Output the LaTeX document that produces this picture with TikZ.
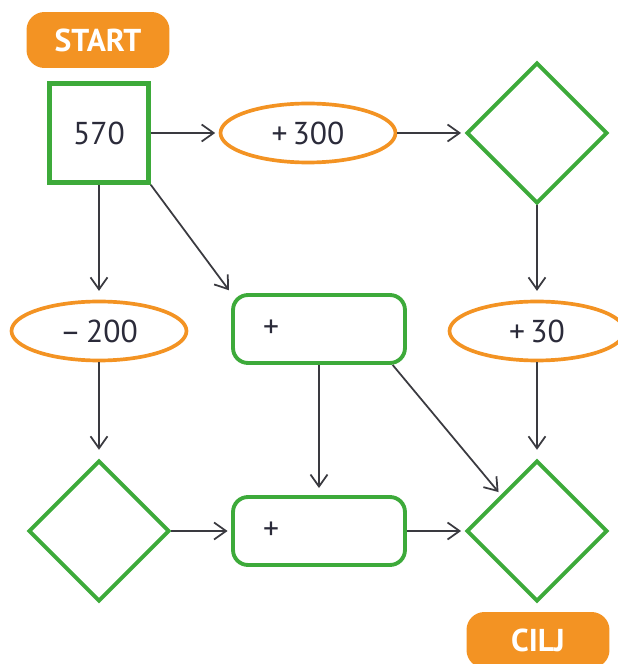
\documentclass[tikz,border=0pt]{standalone}
\usepackage{fontspec}
\setmainfont{PT Sans}
\usetikzlibrary{shapes.geometric,arrows.meta,calc}
\definecolor{boxgreen}{HTML}{3DAA3A}
\definecolor{tagorange}{HTML}{F39323}
\definecolor{linegray}{HTML}{3A3A40}
\definecolor{textdark}{HTML}{2B2B3A}
\tikzstyle{tag}=[rectangle,rounded corners=0.36cm,fill=tagorange,text=white,font=\fontsize{18}{18}\selectfont\bfseries,minimum width=2.86cm,minimum height=1.12cm,inner sep=0pt]
\tikzstyle{startbox}=[rectangle,draw=boxgreen,line width=2.6pt,minimum size=1.98cm,inner sep=0pt,text=textdark,font=\fontsize{18}{18}\selectfont]
\tikzstyle{opoval}=[ellipse,draw=tagorange,line width=2.1pt,minimum width=3.5cm,minimum height=1.18cm,inner sep=0pt,text=textdark,font=\fontsize{18}{18}\selectfont]
\tikzstyle{sumbox}=[rectangle,rounded corners=0.3cm,draw=boxgreen,line width=2.2pt,minimum height=1.36cm,text width=2.24cm,inner xsep=0.6cm,align=left,text=textdark,font=\fontsize{18}{18}\selectfont]
\tikzstyle{emptyrhomb}=[diamond,draw=boxgreen,line width=2.2pt,minimum width=2.82cm,minimum height=2.82cm,inner sep=0pt]
\tikzstyle{flow}=[-{Straight Barb[length=2.4mm,width=3.4mm]},line width=1pt,draw=linegray,shorten >=2pt]

\begin{document}
\begin{tikzpicture}[x=0.02cm,y=0.02cm]
	\useasboundingbox (0,0) rectangle (618,664);
	% top row
	\node[tag] (start) at (98,624) {START};
	\node[startbox] (n570) at (99,531) {570};
	\node[opoval] (plus300) at (308,531) {+\,300};
	\node[emptyrhomb] (rtop) at (537,531) {};
	% middle row
	\node[opoval] (minus200) at (99,333) {–\,200};
	\node[sumbox] (summid) at (319,335) {+};
	\node[opoval] (plus30) at (537,333) {+\,30};
	% bottom row
	\node[emptyrhomb] (rleft) at (99,133) {};
	\node[sumbox] (sumbot) at (319,133) {+};
	\node[emptyrhomb] (rgoal) at (537,133) {};
	\node[tag] (cilj) at (538,24) {CILJ};

	\draw[flow] (n570) -- (plus300);
	\draw[flow] (plus300) -- (rtop);
	\draw[flow,shorten >=5pt] (n570) -- (minus200);
	\draw[flow] (n570.south east) -- (summid.north west);
	\draw[flow,shorten >=5pt] (rtop) -- (plus30);
	\draw[flow,shorten >=5pt] (minus200) -- (rleft);
	\draw[flow,shorten >=4pt] (summid) -- (sumbot);
	\draw[flow] (summid.-26) -- (rgoal.north west);
	\draw[flow,shorten >=5pt] (plus30) -- (rgoal);
	\draw[flow] (rleft) -- (sumbot);
	\draw[flow] (sumbot) -- (rgoal);
\end{tikzpicture}
\end{document}
